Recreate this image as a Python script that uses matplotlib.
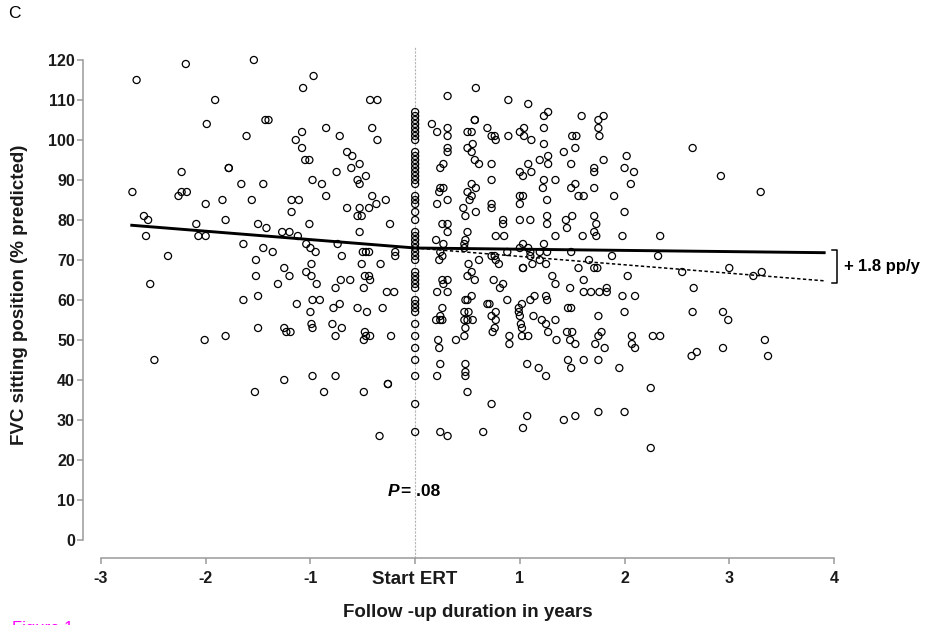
import numpy as np
import matplotlib
matplotlib.use("Agg")
import matplotlib.pyplot as plt

plt.rcParams['font.family'] = ['Liberation Sans', 'DejaVu Sans']

# ---- data: follow-up (years) vs FVC sitting (% predicted) ----
x_pre = [-2.66, -2.19, -1.54, -1.91, -1.99, -1.61, -2.23, -1.78, -1.78, -2.70, -1.66, -2.23, -2.18, -2.26,
         -2.00, -1.84, -1.56, -2.59, -2.55, -2.09, -1.81, -1.50, -2.57, -2.07, -2.00, -1.64,
         -2.36, -1.52, -2.53, -1.52, -1.50, -1.64, -1.50, -2.01, -1.81, -2.49, -1.53,
         -0.97, -1.07, -0.43, -0.36, -1.43, -1.40, -1.08, -1.14, -0.85, -0.72, -0.41, -0.36, -1.08,
         -1.05, -1.01, -0.65, -0.60, -0.53, -0.61, -0.75, -0.47, -0.55, -0.53, -0.98, -0.89, -1.45,
         -0.85, -0.41, -1.18, -1.11, -1.18, -0.65, -0.53, -0.37, -0.44, -0.28, -0.55, -0.51, -1.42,
         -1.01, -0.24, -1.27, -1.20, -1.12, -0.53, -1.45, -1.36, -1.04, -1.00, -0.74, -0.19,
         -0.95, -0.70, -0.50, -0.47, -0.44, -0.19, -1.25, -1.20, -1.31, -0.99, -1.04, -0.99, -0.94,
         -0.51, -0.33, -0.71, -0.62, -0.48, -0.44, -0.43, -0.76, -0.49, -0.27, -0.20, -1.13, -0.98,
         -0.91, -0.72, -0.78, -1.00, -0.55, -0.46, -0.31, -1.25, -1.23, -1.19, -0.99, -0.98, -0.79,
         -0.70, -0.76, -0.48, -0.47, -0.49, -0.43, -0.23, -1.25, -0.98, -0.76, -0.26, -0.26, -0.87,
         -0.49, -0.34]
y_pre = [115, 119, 120, 110, 104, 101, 92, 93, 93, 87, 89, 87, 87, 86,
         84, 85, 85, 81, 80, 79, 80, 79, 76, 76, 76, 74,
         71, 70, 64, 66, 61, 60, 53, 50, 51, 45, 37,
         116, 113, 110, 110, 105, 105, 102, 100, 103, 101, 103, 100, 98,
         95, 95, 97, 96, 94, 93, 92, 91, 90, 89, 90, 89, 89,
         86, 86, 85, 85, 82, 83, 83, 84, 83, 85, 81, 81, 78,
         79, 79, 77, 77, 76, 77, 73, 72, 74, 73, 74, 72,
         72, 71, 72, 72, 72, 71, 68, 66, 64, 69, 67, 66, 64,
         69, 69, 65, 65, 66, 66, 65, 63, 63, 62, 62, 59, 60,
         60, 59, 58, 57, 58, 57, 58, 53, 52, 52, 54, 53, 54,
         53, 51, 52, 51, 50, 51, 51, 40, 41, 41, 39, 39, 37,
         37, 26]

y_start = [107, 106, 105, 104, 103, 102, 101, 100, 97, 96, 95, 94, 93, 92, 91, 90, 89, 86, 85, 84,
           82, 80, 77, 76, 75, 74, 73, 72, 71, 70, 67, 66, 65, 64, 63, 60, 59, 58, 57, 54,
           51, 48, 45, 41, 34, 27]

x_post = [0.58, 0.31, 0.89, 1.08, 1.27, 1.23, 1.59, 0.16, 0.21, 0.31, 0.31, 0.57, 0.57, 0.50, 0.54,
          0.69, 0.73, 0.76, 0.77, 0.89, 1.00, 1.04, 1.04, 1.11, 1.23, 1.23, 1.50, 1.54, 0.31, 0.31,
          0.55, 0.50, 0.54, 0.57, 0.61, 0.73, 0.27, 0.24, 1.42, 1.53, 1.19, 1.27, 1.27, 1.08, 1.00,
          1.03, 1.11, 1.49, 0.73, 1.23, 1.22, 1.34, 0.24, 0.27, 0.23, 0.54, 0.58, 0.50, 0.54, 0.52,
          0.31, 0.21, 0.46, 0.48, 0.58, 0.73, 0.73, 1.00, 1.03, 1.00, 1.26, 1.49, 1.53, 1.56, 1.50,
          1.26, 1.26, 1.00, 1.10, 0.84, 0.84, 1.44, 1.45, 0.26, 0.31, 0.31, 0.50, 0.48, 0.77, 0.85,
          1.34, 0.20, 0.27, 0.47, 1.03, 1.23,
          0.47, 1.00, 1.08, 0.88, 1.10, 1.19, 1.26, 1.49, 0.24, 0.26, 0.23, 0.73, 0.76, 0.77, 0.61,
          0.80, 1.10, 1.12, 1.19, 1.25, 0.51, 1.03, 1.03, 1.56, 0.54, 0.50, 0.57, 0.26, 0.31, 0.27,
          0.21, 0.31, 0.75, 0.84, 0.81, 1.31, 1.34, 1.48, 0.54, 0.50, 0.48, 0.88, 0.69, 0.71, 1.02,
          0.99, 1.10, 1.14, 1.25, 1.26, 1.46, 1.49, 0.26, 0.24, 0.20, 0.24, 0.26, 0.47, 0.51, 0.47,
          0.50, 0.55, 0.77, 0.73, 0.77, 0.99, 1.00, 1.01, 1.02, 1.13, 1.21, 1.25, 1.27, 1.34, 0.48,
          0.76, 0.74, 0.47, 0.39, 0.90, 0.90, 1.02, 1.08, 1.35, 1.45, 1.50, 1.48, 1.53, 0.22, 0.23,
          0.24, 0.21, 0.48, 0.48, 0.48, 1.07, 1.18, 1.25, 1.46, 1.49, 0.50, 0.73, 1.07, 1.42, 1.53,
          0.24, 0.31, 0.65, 1.03,
          1.80, 1.75, 1.75, 1.76, 2.65, 2.02, 1.80, 1.71, 1.71, 2.00, 2.09, 2.92, 3.30, 2.06, 1.71,
          1.61, 1.90, 2.00, 1.71, 1.73, 1.71, 1.73, 1.60, 1.98, 2.34,
          1.88, 2.32, 1.66, 1.71, 1.74, 1.61, 2.03, 2.55, 3.00, 3.23, 3.31, 1.61, 1.68, 1.76, 1.83,
          1.83, 1.98, 2.10, 2.66, 1.75, 2.00, 2.65, 2.94, 2.99, 1.78, 1.75, 1.72, 1.81, 2.07, 2.07,
          2.10, 2.27, 2.34, 1.61, 1.75, 1.95, 2.69, 2.64, 2.94, 3.34, 3.37, 2.25, 1.75, 2.00, 2.25]
y_post = [113, 111, 110, 109, 107, 106, 106, 104, 102, 103, 101, 105, 105, 102, 102,
          103, 101, 101, 100, 101, 102, 103, 101, 100, 103, 99, 101, 101, 98, 97,
          99, 98, 97, 95, 94, 94, 94, 93, 97, 98, 95, 96, 94, 94, 92,
          91, 92, 94, 90, 90, 88, 90, 88, 88, 87, 89, 88, 87, 86, 85,
          85, 84, 83, 81, 82, 84, 83, 86, 86, 84, 85, 88, 89, 86, 81,
          81, 79, 80, 80, 80, 79, 80, 78, 79, 79, 77, 77, 75, 76, 76,
          76, 75, 74, 74, 74, 74,
          73, 73, 73, 72, 72, 72, 72, 72, 72, 71, 70, 71, 71, 70, 70,
          69, 71, 69, 70, 69, 69, 68, 68, 68, 67, 66, 65, 65, 65, 64,
          62, 62, 65, 64, 63, 66, 64, 63, 61, 60, 60, 60, 59, 59, 59,
          58, 60, 61, 61, 60, 58, 58, 58, 56, 55, 55, 55, 57, 57, 55,
          55, 55, 57, 56, 55, 57, 56, 54, 53, 56, 55, 54, 52, 55, 53,
          53, 52, 51, 50, 51, 49, 51, 51, 50, 52, 52, 50, 49, 50, 48,
          44, 41, 44, 42, 41, 44, 43, 41, 45, 43, 37, 34, 31, 30, 31,
          27, 26, 27, 28,
          106, 105, 103, 101, 98, 96, 95, 93, 92, 93, 92, 91, 87, 89, 88,
          86, 86, 82, 81, 79, 77, 76, 76, 76, 76,
          71, 71, 70, 68, 68, 65, 66, 67, 68, 66, 67, 62, 62, 62, 63,
          62, 61, 61, 63, 56, 57, 57, 57, 55, 52, 51, 49, 48, 51, 49,
          48, 51, 51, 45, 45, 43, 47, 46, 48, 50, 46, 38, 32, 32, 23]

# fitted broken-stick model
intercept = 73.0
slope_pre = -2.1
slope_post = -0.3
fit_start, fit_end = -2.72, 3.92

xticks = [-3, -2, -1, 0, 1, 2, 3, 4]
xticklabels = ['-3', '-2', '-1', 'Start ERT', '1', '2', '3', '4']
yticks = list(range(0, 121, 10))

# ---- figure ----
W, H = 925, 625
fig = plt.figure(figsize=(W / 100, H / 100), dpi=100)
ax = fig.add_axes([101 / W, 1 - 540 / H, 733 / W, 490 / H])
ax.set_xlim(-3, 4)
ax.set_ylim(0, 122.5)

spine_col = '#9a9a9a'
for s in ['top', 'right']:
    ax.spines[s].set_visible(False)
for s in ['left', 'bottom']:
    ax.spines[s].set_color(spine_col)
    ax.spines[s].set_linewidth(1.1)
    ax.spines[s].set_position(('outward', 13))
ax.spines['left'].set_bounds(0, 120)
ax.spines['bottom'].set_bounds(-3, 4)

ax.set_xticks(xticks)
ax.set_xticklabels(xticklabels)
ax.set_yticks(yticks)
ax.tick_params(axis='both', color=spine_col, width=1.1, length=4.3,
               labelsize=11.5, labelcolor='#1a1a1a')
ax.tick_params(axis='y', pad=1.5)
ax.tick_params(axis='x', pad=5)
for lab in ax.get_xticklabels() + ax.get_yticklabels():
    lab.set_fontweight('bold')
ax.get_xticklabels()[3].set_fontsize(13.5)

# vertical reference line at start of ERT
ax.plot([0, 0], [-4.5, 123.5], color='#b5b5b5', lw=0.8, ls=(0, (2, 1.2)),
        clip_on=False, zorder=1)

# points
mk = dict(s=26, facecolors='none', edgecolors='black', linewidths=0.9, zorder=3)
ax.scatter(x_pre, y_pre, **mk)
ax.scatter(np.zeros(len(y_start)), y_start, **mk)
ax.scatter(x_post, y_post, **mk)

# fitted lines
xa = np.array([fit_start, 0.0])
ax.plot(xa, intercept + slope_pre * xa, color='black', lw=2.1, zorder=4, solid_capstyle='butt')
xb = np.array([0.0, fit_end])
ax.plot(xb, intercept + slope_post * xb, color='black', lw=2.1, zorder=4, solid_capstyle='butt')
ax.plot(xb, intercept + slope_pre * xb, color='black', lw=1.1, ls=(0, (2.2, 1.6)), zorder=4)

# bracket and annotation
y_top = intercept + slope_post * fit_end + 0.6
y_bot = intercept + slope_pre * fit_end - 0.5
bx, bx0 = 4.028, 3.983
ax.plot([bx0, bx, bx, bx0], [y_top, y_top, y_bot, y_bot], color='black', lw=1.1,
        clip_on=False, zorder=4)
y_mid = (y_top + y_bot) / 2
ax.text(4.09, y_mid, '+', fontsize=12, fontweight='bold',
        va='center', ha='left', clip_on=False)
ax.text(4.225, y_mid, '1.8 pp/y', fontsize=12, fontweight='bold',
        va='center', ha='left', clip_on=False)

# P value
ax.text(-0.258, 12, 'P', fontsize=12.5, fontweight='bold', fontstyle='italic',
        va='center', ha='left')
ax.text(-0.135, 12, '= .08', fontsize=12.5, fontweight='bold', va='center', ha='left')

# axis labels
ax.set_xlabel('Follow -up duration in years', fontsize=13.5, fontweight='bold', color='#1a1a1a')
ax.xaxis.set_label_coords(0.5, (540 - 604) / 490)
ax.set_ylabel('FVC sitting position (% predicted)', fontsize=13.5, fontweight='bold',
              color='#1a1a1a', va='center')
ax.yaxis.set_label_coords((20 - 101) / 733, 0.5)

# panel letter and cropped caption
fig.text(14 / W, 1 - 14 / H, 'C', fontsize=12.5, ha='center', va='center')
fig.text(12 / W, 1 - 621 / H, 'Figure 1', fontsize=12, color='magenta', ha='left', va='top')

fig.savefig('out.png', dpi=100)
